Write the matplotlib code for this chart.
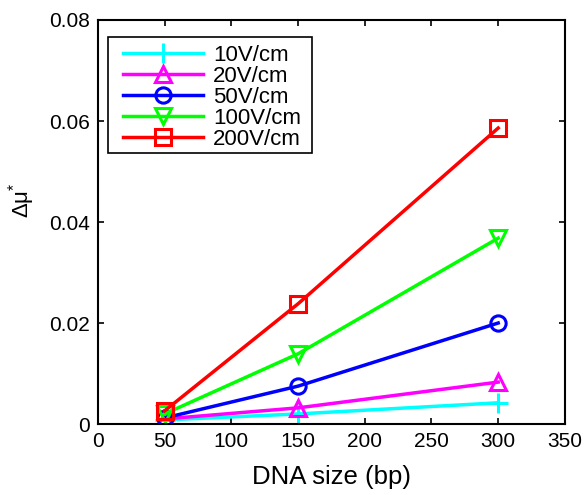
import matplotlib
matplotlib.use("Agg")
import matplotlib.pyplot as plt
from matplotlib.patches import Rectangle

plt.rcParams['font.family'] = ['Liberation Sans', 'DejaVu Sans']
plt.rcParams['mathtext.fontset'] = 'custom'
plt.rcParams['mathtext.rm'] = 'Liberation Sans'

sizes = [50, 150, 300]
labels = ['10V/cm', '20V/cm', '50V/cm', '100V/cm', '200V/cm']
v10 = [0.0008, 0.0020, 0.0042]
v20 = [0.0010, 0.0032, 0.0083]
v50 = [0.0012, 0.0075, 0.0200]
v100 = [0.0020, 0.0139, 0.0368]
v200 = [0.0026, 0.0238, 0.0586]
series = [v10, v20, v50, v100, v200]
colors = ['#00FFFF', '#FF00FF', '#0000FF', '#00FF00', '#FF0000']
markers = ['+', '^', 'o', 'v', 's']
xticks = [0, 50, 100, 150, 200, 250, 300, 350]
yticks = [0, 0.02, 0.04, 0.06, 0.08]

fig = plt.figure(figsize=(5.86, 4.95), dpi=100)
ax = fig.add_axes([0.167, 0.1434, 0.797, 0.8162])
for vals, c, m, lab in zip(series, colors, markers, labels):
    ms = 14 if m == '+' else 11
    ax.plot(sizes, vals, color=c, marker=m, markersize=ms, markerfacecolor='none',
            markeredgecolor=c, markeredgewidth=2.2, linewidth=2.5, label=lab)

ax.set_xlim(0, 350)
ax.set_ylim(0, 0.08)
ax.set_xticks(xticks)
ax.set_yticks(yticks)
ax.set_xticklabels([str(t) for t in xticks])
ax.set_yticklabels(['0', '0.02', '0.04', '0.06', '0.08'])
ax.tick_params(direction='in', top=True, right=True, length=4, width=1.2, labelsize=15, pad=6)
for s in ax.spines.values():
    s.set_linewidth(1.5)
ax.set_xlabel('DNA size (bp)', fontsize=18.5, labelpad=10)
ax.set_ylabel('Δμ$^{*}$', fontsize=16)
ax.yaxis.set_label_coords(-0.13, 0.555)

# legend frame (drawn separately to mimic MATLAB padding)
ax.add_patch(Rectangle((0.021, 0.671), 0.437, 0.287, transform=ax.transAxes,
                       facecolor='white', edgecolor='black', linewidth=1.2, zorder=4))
leg = ax.legend(loc='upper left', bbox_to_anchor=(0.0535, 0.938), fontsize=16, frameon=False,
                handlelength=3.6, handletextpad=0.45,
                borderpad=0.0, labelspacing=0.0, borderaxespad=0)
leg.set_zorder(5)
fig.savefig('out.png', dpi=100)
